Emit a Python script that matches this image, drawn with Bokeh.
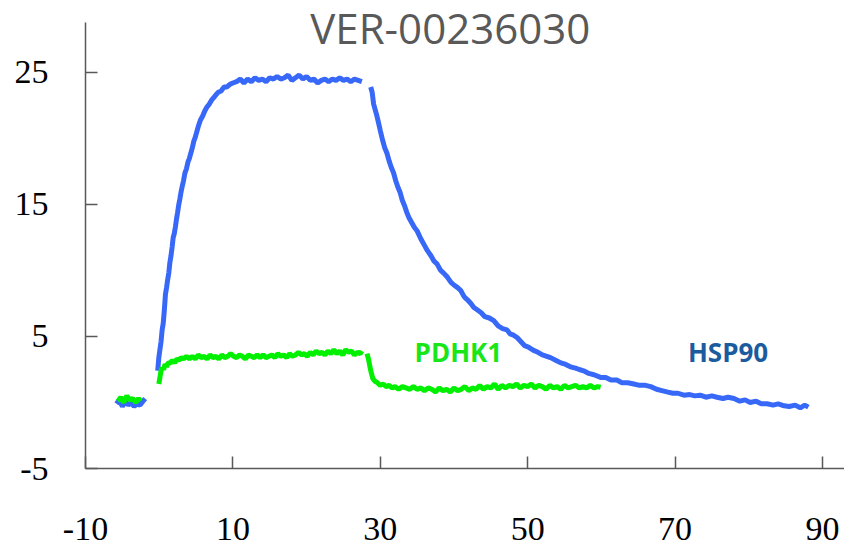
import math
from bokeh.plotting import figure
from bokeh.models import FixedTicker, Label
from bokeh.embed import file_html
from bokeh.resources import INLINE

NAN = float("nan")

# ---- data ----
x_ticks = [-10, 10, 30, 50, 70, 90]
y_ticks = [-5, 5, 15, 25]
x_tick_labels = {-10: "-10", 10: "10", 30: "30", 50: "50", 70: "70", 90: "90"}
y_tick_labels = {-5: "-5", 5: "5", 15: "15", 25: "25"}

title_text = "VER-00236030"

hsp90_t = [
    -5.8, -5.4, -5.0, -4.6, -4.2, -3.8, -3.4, -3.0, -2.6, -2.2, -1.9, NAN,
    -0.2, -0.05, 0.1, 0.25, 0.4, 0.55, 0.7, 0.85, 1.0, 1.15, 1.3, 1.45, 1.6, 1.76,
    1.9, 2.05, 2.2, 2.35, 2.5, 2.66, 2.8, 2.95, 3.1, 3.3, 3.5, 3.7, 3.9, 4.1, 4.3,
    4.5, 4.7, 4.9, 5.1, 5.3, 5.6, 5.9, 6.2, 6.5, 6.8, 7.1, 7.4, 7.7, 8.0, 8.4, 8.8,
    9.2, 9.6, 10.0, 10.5, 11.0, 11.5, 12.0, 12.5, 13.0, 13.5, 14.0, 14.5, 15.0,
    15.5, 16.0, 16.5, 17.0, 17.5, 18.0, 18.5, 19.0, 19.5, 20.0, 20.5, 21.0, 21.5,
    22.0, 22.5, 23.0, 23.5, 24.0, 24.5, 25.0, 25.5, 26.0, 26.5, 27.0, 27.5, NAN,
    28.7, 28.9, 29.1, 29.3, 29.5, 29.8, 30.0, 30.3, 30.6, 30.9, 31.2, 31.5, 31.8,
    32.1, 32.4, 32.7, 33.0, 33.3, 33.6, 33.9, 34.3, 34.6, 35.0, 35.5, 36.0, 36.4,
    36.9, 37.3, 37.7, 38.2, 38.6, 39.1, 39.6, 40.0, 40.5, 40.9, 41.4, 41.8, 42.3,
    42.7, 43.2, 43.7, 44.2, 44.8, 45.4, 46.0, 46.6, 47.2, 47.6, 48.1, 48.6, 49.1,
    49.6, 50.1, 50.8, 51.4, 52.0, 52.6, 53.1, 53.8, 54.5, 55.1, 55.8, 56.5, 57.0,
    57.6, 58.3, 59.0, 59.9, 60.6, 61.3, 62.1, 62.8, 63.6, 64.4, 65.2, 66.0, 66.7,
    67.5, 68.2, 68.9, 69.7, 70.4, 71.2, 72.0, 72.7, 73.4, 74.2, 75.0, 75.7, 76.5,
    77.2, 78.0, 78.8, 79.5, 80.2, 81.0, 81.7, 82.5, 83.3, 84.0, 84.8, 85.5, 86.3,
    87.0, 87.6, 88.1,
]
hsp90_ru = [
    -0.1, 0.2, -0.3, 0.1, -0.2, 0.0, -0.3, -0.1, -0.2, 0.1, 0.3, NAN,
    2.4, 3.4, 4.0, 4.6, 5.5, 6.0, 7.0, 8.2, 8.7, 9.3, 9.8, 10.6, 11.1, 11.8,
    12.5, 12.8, 13.3, 13.9, 14.4, 15.0, 15.4, 15.9, 16.3, 16.8, 17.4, 17.7, 18.2, 18.5, 18.9,
    19.3, 19.8, 20.1, 20.5, 20.9, 21.4, 21.7, 22.1, 22.4, 22.6, 22.9, 23.1, 23.3, 23.5, 23.6, 23.9,
    23.9, 24.1, 24.2, 24.3, 24.5, 24.2, 24.5, 24.3, 24.6, 24.4, 24.5, 24.3, 24.6,
    24.5, 24.7, 24.5, 24.6, 24.8, 24.4, 24.6, 24.8, 24.5, 24.7, 24.4, 24.5, 24.2,
    24.4, 24.5, 24.3, 24.5, 24.4, 24.6, 24.4, 24.5, 24.3, 24.5, 24.4, 24.3, NAN,
    23.9, 23.5, 22.6, 22.2, 21.8, 21.1, 20.6, 19.9, 19.3, 18.9, 18.3, 17.8, 17.4,
    16.8, 16.3, 15.9, 15.3, 14.9, 14.4, 14.0, 13.6, 13.3, 13.0, 12.4, 11.9, 11.5,
    11.1, 10.7, 10.5, 10.0, 9.8, 9.5, 9.1, 8.9, 8.7, 8.5, 8.0, 7.8, 7.5,
    7.2, 7.0, 6.8, 6.5, 6.4, 6.2, 5.8, 5.6, 5.5, 5.2, 5.1, 4.9, 4.6,
    4.3, 4.2, 3.95, 3.8, 3.6, 3.5, 3.4, 3.2, 3.0, 2.9, 2.7, 2.6, 2.5,
    2.4, 2.2, 2.1, 1.9, 1.9, 1.7, 1.7, 1.5, 1.5, 1.4, 1.3, 1.3, 1.2,
    1.0, 0.9, 0.8, 0.7, 0.7, 0.55, 0.6, 0.5, 0.55, 0.4, 0.5, 0.4, 0.3,
    0.4, 0.3, 0.1, 0.2, 0.0, 0.1, -0.1, -0.1, -0.2, -0.1, -0.25, -0.3, -0.2,
    -0.4, -0.2, -0.35,
]

pdhk1_t = [
    -5.6, -5.2, -4.8, -4.4, -4.0, -3.6, -3.2, -2.8, -2.5, NAN,
    -0.05, 0.1, 0.25, 0.4, 0.6, 0.8, 1.0, 1.2, 1.5, 1.8, 2.1, 2.4, 2.7, 3.0, 3.3,
    3.7, 4.1, 4.5, 4.9, 5.3, 5.7, 6.1, 6.5, 6.9, 7.3, 7.7, 8.1, 8.5, 8.9, 9.3,
    9.7, 10.1, 10.5, 10.9, 11.3, 11.7, 12.1, 12.5, 12.9, 13.3, 13.7, 14.1, 14.5,
    14.9, 15.3, 15.7, 16.1, 16.5, 16.9, 17.3, 17.7, 18.1, 18.5, 18.9, 19.3, 19.7,
    20.1, 20.5, 20.9, 21.3, 21.7, 22.1, 22.5, 22.9, 23.3, 23.7, 24.1, 24.5, 24.9,
    25.3, 25.7, 26.1, 26.5, 26.9, 27.3, 27.5, NAN,
    28.2, 28.4, 28.6, 28.8, 29.0, 29.3, 29.6, 30.0, 30.4, 30.8, 31.2, 31.6, 32.0,
    32.5, 33.0, 33.5, 34.0, 34.5, 35.0, 35.5, 36.0, 36.5, 37.0, 37.5, 38.0, 38.5,
    39.0, 39.5, 40.0, 40.5, 41.0, 41.5, 42.0, 42.5, 43.0, 43.5, 44.0, 44.5, 45.0,
    45.5, 46.0, 46.5, 47.0, 47.5, 48.0, 48.5, 49.0, 49.5, 50.0, 50.5, 51.0, 51.5,
    52.0, 52.5, 53.0, 53.5, 54.0, 54.5, 55.0, 55.5, 56.0, 56.5, 57.0, 57.5, 58.0,
    58.5, 59.0, 59.5, 59.9,
]
pdhk1_ru = [
    0.1, 0.4, 0.0, 0.5, 0.2, 0.3, 0.0, 0.3, 0.1, NAN,
    1.4, 1.9, 2.4, 2.65, 2.5, 2.9, 2.7, 3.0, 3.0, 3.2, 3.0, 3.3, 3.2, 3.4, 3.3,
    3.5, 3.3, 3.5, 3.3, 3.6, 3.4, 3.5, 3.3, 3.6, 3.4, 3.5, 3.3, 3.6, 3.4, 3.5,
    3.7, 3.5, 3.4, 3.6, 3.5, 3.3, 3.6, 3.5, 3.4, 3.6, 3.4, 3.6, 3.4,
    3.5, 3.6, 3.4, 3.7, 3.5, 3.6, 3.4, 3.7, 3.5, 3.6, 3.8, 3.6, 3.7,
    3.5, 3.8, 3.6, 3.9, 3.7, 3.8, 3.6, 3.9, 3.7, 4.0, 3.7, 3.9, 3.6,
    4.0, 3.8, 3.9, 3.6, 3.8, 3.7, 3.9, NAN,
    3.7, 3.3, 2.7, 2.2, 1.8, 1.6, 1.5, 1.3, 1.4, 1.2, 1.3, 1.1, 1.2,
    1.0, 1.2, 1.1, 1.0, 1.2, 1.0, 1.1, 0.9, 1.1, 1.0, 0.8, 1.1, 0.9,
    1.0, 0.8, 1.1, 0.9, 1.0, 1.2, 0.9, 1.1, 1.0, 1.3, 1.0, 1.2, 1.1,
    1.4, 1.0, 1.3, 1.1, 1.3, 1.2, 1.4, 1.1, 1.3, 1.2, 1.4, 1.1, 1.3,
    1.2, 1.0, 1.3, 1.1, 1.2, 1.0, 1.3, 1.1, 1.2, 1.3, 1.1, 1.2, 1.1,
    1.3, 1.1, 1.2, 1.15,
]

series_names = ["PDHK1", "HSP90"]
label_pos = {"PDHK1": (40.6, 3.8), "HSP90": (77.2, 3.8)}

# ---- styles ----
BLUE = "#3868F8"
GREEN = "#00F000"
AXIS = "#595959"

p = figure(
    width=844, height=545,
    x_range=(-10, 93.0), y_range=(-5, 30.45),
    output_backend="svg", toolbar_location=None,
    min_border_left=85, min_border_right=0, min_border_top=0, min_border_bottom=77,
)
p.outline_line_color = None
p.grid.grid_line_color = None
p.background_fill_color = "white"

p.line(hsp90_t, hsp90_ru, line_color=BLUE, line_width=5)
p.line(pdhk1_t, pdhk1_ru, line_color=GREEN, line_width=5)

for ax in (p.xaxis[0], p.yaxis[0]):
    ax.axis_line_color = AXIS
    ax.axis_line_width = 1.5
    ax.major_tick_line_color = AXIS
    ax.major_tick_line_width = 1.5
    ax.major_tick_in = 12
    ax.major_tick_out = 0
    ax.minor_tick_line_color = None
    ax.major_label_text_font = "Liberation Serif"
    ax.major_label_text_font_size = "34px"
    ax.major_label_text_color = "black"

p.xaxis.ticker = FixedTicker(ticks=x_ticks)
p.yaxis.ticker = FixedTicker(ticks=y_ticks)
p.xaxis.major_label_overrides = x_tick_labels
p.yaxis.major_label_overrides = y_tick_labels
p.yaxis.bounds = (-5, 28.8)
p.xaxis.major_label_standoff = 49
p.yaxis.major_label_standoff = 37

p.add_layout(Label(x=39.5, y=28.4, text=title_text, text_font="Open Sans",
                   text_font_size="42px", text_color="#595959",
                   text_align="center", text_baseline="middle"))

p.add_layout(Label(x=label_pos["PDHK1"][0], y=label_pos["PDHK1"][1], text=series_names[0],
                   text_font="Open Sans", text_font_style="bold", text_font_size="26px",
                   text_color="#19E619", text_align="center", text_baseline="middle"))
p.add_layout(Label(x=label_pos["HSP90"][0], y=label_pos["HSP90"][1], text=series_names[1],
                   text_font="Open Sans", text_font_style="bold", text_font_size="26px",
                   text_color="#1B5C9E", text_align="center", text_baseline="middle"))

open("out.html", "w").write(file_html(p, INLINE))
